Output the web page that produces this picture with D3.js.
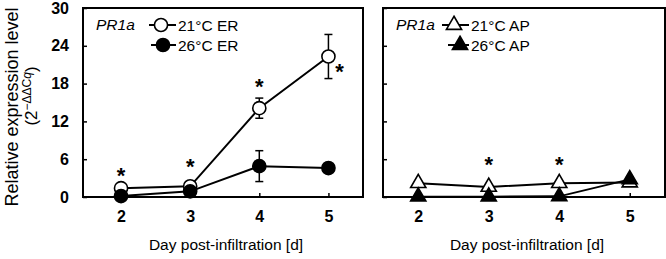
<!DOCTYPE html>
<html>
<head>
<meta charset="utf-8">
<script src="https://cdn.jsdelivr.net/npm/d3@7"></script>
<style>
  body { margin: 0; background: #fff; }
  svg { display: block; font-family: "Liberation Sans", Arial, sans-serif; }
  .tick text { font-weight: bold; font-size: 16px; fill: #000; }
  .domain { display: none; }
  .tick line { stroke: #000; stroke-width: 1.5; }
</style>
</head>
<body>
<svg id="chart" width="666" height="259"></svg>
<script>
"use strict";

// days sampled
var days = [2, 3, 4, 5];
var yTicks = [0, 6, 12, 18, 24, 30];

// left panel: ER
var er21 = [1.4, 1.7, 14.1, 22.3];
var er21Err = [0, 0, 1.6, 3.5];
var er26 = [0.15, 0.9, 4.9, 4.6];
var er26Err = [0, 0, 2.45, 0.6];
var starsER = [{day: 2, at: 4.1}, {day: 3, at: 5.6}, {day: 4, at: 18.2}, {day: 5, at: 20.7, side: true}];

// right panel: AP
var ap21 = [2.2, 1.6, 2.2, 2.3];
var ap26 = [0.05, 0.05, 0.1, 2.8];
var ap26Err = [0, 0, 0, 0.3];
var starsAP = [{day: 3, at: 5.9}, {day: 4, at: 5.9}];

var svg = d3.select("#chart");

var plotTop = 8, plotBottom = 197;
var y = d3.scaleLinear().domain([0, 30]).range([plotBottom, plotTop]);

function panel(opt) {
  var x = d3.scaleLinear().domain(opt.xDomain).range([opt.x0, opt.x1]);
  var g = svg.append("g").attr("class", "panel");

  // frame
  g.append("rect")
    .attr("x", opt.x0).attr("y", plotTop)
    .attr("width", opt.x1 - opt.x0).attr("height", plotBottom - plotTop)
    .attr("fill", "none").attr("stroke", "#000").attr("stroke-width", 2);

  var yAxis = d3.axisLeft(y).tickValues(yTicks).tickSize(-4).tickPadding(14);
  if (!opt.yLabels) yAxis.tickFormat("");
  g.append("g").attr("transform", "translate(" + opt.x0 + ",0)").call(yAxis);

  var xAxis = d3.axisBottom(x).tickValues(days).tickSize(-4).tickPadding(14).tickFormat(d3.format("d"));
  g.append("g").attr("transform", "translate(0," + plotBottom + ")").call(xAxis);

  g.append("text")
    .attr("x", (opt.x0 + opt.x1) / 2 + 3).attr("y", 250)
    .attr("text-anchor", "middle").attr("font-size", 15.5)
    .text("Day post-infiltration [d]");

  opt.series.forEach(function(s) {
    var pts = days.map(function(d, i) {
      return {d: d, v: s.values[i], e: s.err ? s.err[i] : 0};
    });
    var line = d3.line().x(function(p) { return x(p.d); }).y(function(p) { return y(p.v); });
    g.append("path").datum(pts)
      .attr("d", line).attr("fill", "none").attr("stroke", "#000").attr("stroke-width", 2);

    var eb = g.append("g").selectAll("g").data(pts.filter(function(p) { return p.e > 0; }))
      .join("g");
    eb.append("line")
      .attr("x1", function(p) { return x(p.d); }).attr("x2", function(p) { return x(p.d); })
      .attr("y1", function(p) { return y(p.v - p.e); }).attr("y2", function(p) { return y(p.v + p.e); })
      .attr("stroke", "#000").attr("stroke-width", 1.5);
    [-1, 1].forEach(function(sign) {
      eb.append("line")
        .attr("x1", function(p) { return x(p.d) - 4; }).attr("x2", function(p) { return x(p.d) + 4; })
        .attr("y1", function(p) { return y(p.v + sign * p.e); }).attr("y2", function(p) { return y(p.v + sign * p.e); })
        .attr("stroke", "#000").attr("stroke-width", 1.5);
    });

    g.append("g").selectAll("path").data(pts).join("path")
      .attr("transform", function(p) { return "translate(" + x(p.d) + "," + y(p.v) + ")"; })
      .attr("d", s.symbol)
      .attr("fill", s.fill).attr("stroke", "#000").attr("stroke-width", 1.6);
  });

  g.append("g").selectAll("text").data(opt.stars).join("text")
    .attr("x", function(s) { return x(s.day) + (s.side ? 11 : 0); })
    .attr("y", function(s) { return y(s.at) + 12; })
    .attr("text-anchor", "middle").attr("font-size", 22).attr("font-weight", "bold")
    .text("*");

  // legend
  var lg = g.append("g");
  lg.append("text")
    .attr("x", opt.x0 + 13).attr("y", 30)
    .attr("font-size", 15.5).attr("font-style", "italic")
    .text("PR1a");
  opt.series.forEach(function(s, i) {
    var ly = 25 + i * 20;
    lg.append("line")
      .attr("x1", opt.legX + s.legOff - 12).attr("x2", opt.legX + 27)
      .attr("y1", ly).attr("y2", ly)
      .attr("stroke", "#000").attr("stroke-width", 2);
    lg.append("path")
      .attr("transform", "translate(" + (opt.legX + s.legOff) + "," + ly + ")")
      .attr("d", s.symbol).attr("fill", s.fill).attr("stroke", "#000").attr("stroke-width", 1.6);
    lg.append("text")
      .attr("x", opt.legX + 29).attr("y", ly + 5.5)
      .attr("font-size", 15.5)
      .text(s.name);
  });
}

var circle = d3.symbol().type(d3.symbolCircle).size(135)();
var tri = d3.symbol().type(d3.symbolTriangle).size(100)();

panel({
  x0: 83, x1: 363, xDomain: [1.45, 5.5], yLabels: true,
  legX: 149, stars: starsER,
  series: [
    {name: "21°C ER", values: er21, err: er21Err, symbol: circle, fill: "#fff", legOff: 12},
    {name: "26°C ER", values: er26, err: er26Err, symbol: circle, fill: "#000", legOff: 14}
  ]
});

panel({
  x0: 383, x1: 665, xDomain: [1.5, 5.5], yLabels: false,
  legX: 442, stars: starsAP,
  series: [
    {name: "21°C AP", values: ap21, symbol: tri, fill: "#fff", legOff: 12},
    {name: "26°C AP", values: ap26, err: ap26Err, symbol: tri, fill: "#000", legOff: 18}
  ]
});

// y axis title
var yt = svg.append("g");
yt.append("text")
  .attr("transform", "translate(18,107) rotate(-90)")
  .attr("text-anchor", "middle").attr("font-size", 18)
  .text("Relative expression level");
var sub = yt.append("text")
  .attr("transform", "translate(37,96) rotate(-90)")
  .attr("text-anchor", "middle").attr("font-size", 17);
sub.append("tspan").text("(2");
sub.append("tspan").attr("dy", -6).attr("font-size", 12).text("\u2212\u0394\u0394C");
sub.append("tspan").attr("font-size", 12).attr("font-style", "italic").text("q");
sub.append("tspan").attr("dy", 6).text(")");
</script>
</body>
</html>
